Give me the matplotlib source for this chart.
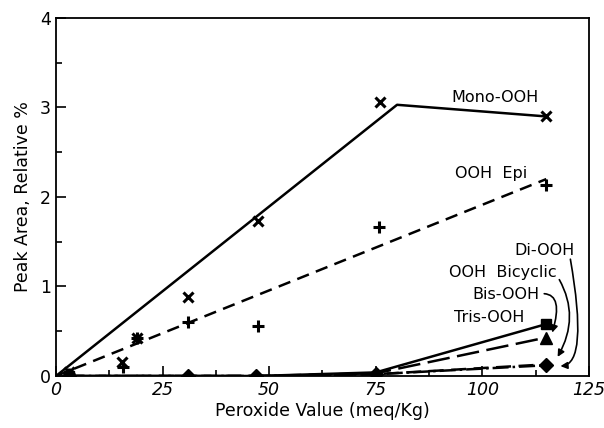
import numpy as np
import matplotlib.pyplot as plt
from matplotlib.ticker import MultipleLocator

plt.rcParams['font.family'] = ['DejaVu Sans']

# peroxide value of the samples (meq/Kg)
pv_mono = [3, 15.4, 19, 31, 47.4, 75.9, 115]
mono = [0.05, 0.16, 0.43, 0.88, 1.73, 3.06, 2.91]
pv_epi = [3, 15.7, 19, 31, 47.4, 75.7, 115]
epi = [0.02, 0.10, 0.42, 0.60, 0.56, 1.66, 2.13]

# fitted trend lines
fit_mono_x = [0, 80, 115]
fit_mono_y = [0, 3.03, 2.90]
fit_epi_x = [0, 115]
fit_epi_y = [0, 2.20]

# minor hydroperoxides
pv_low = [3, 31, 47, 75, 115]
tris = [0, 0, 0, 0.04, 0.58]
bis = [0, 0, 0, 0.03, 0.43]
bicyclic = [0, 0, 0, 0.02, 0.13]
di = [0, 0, 0, 0.02, 0.12]

fig = plt.figure(figsize=(6.04, 4.28), dpi=100)
ax = fig.add_axes([0.0927, 0.1215, 0.8823, 0.8365])

k = 'black'
ax.plot(fit_mono_x, fit_mono_y, '-', color=k, lw=1.8)
ax.plot(pv_mono, mono, 'x', color=k, ms=7, mew=2.2)
ax.plot(fit_epi_x, fit_epi_y, '--', color=k, lw=1.8, dashes=(5, 3))
ax.plot(pv_epi, epi, '+', color=k, ms=9, mew=2.2)

ax.plot(pv_low, tris, '-', color=k, lw=1.8)
ax.plot(pv_low, bis, '--', color=k, lw=1.8, dashes=(9, 3))
ax.plot(pv_low, bicyclic, '--', color=k, lw=1.8, dashes=(6, 3))
ax.plot(pv_low, di, '-.', color=k, lw=1.8)
ax.plot(pv_low[-1], tris[-1], 's', color=k, ms=7)
ax.plot(pv_low[-1], bis[-1], '^', color=k, ms=8)
ax.plot(pv_low, di, 'D', color=k, ms=7)
ax.plot(pv_low[0], tris[0], 's', color=k, ms=7)

fs = 11.5
ax.text(103, 3.11, 'Mono-OOH', ha='center', va='center', fontsize=fs)
ax.text(102, 2.26, 'OOH  Epi', ha='center', va='center', fontsize=fs)
ax.text(114.5, 1.40, 'Di-OOH', ha='center', va='center', fontsize=fs)
ax.text(104.7, 1.16, 'OOH  Bicyclic', ha='center', va='center', fontsize=fs)
ax.text(105.6, 0.91, 'Bis-OOH', ha='center', va='center', fontsize=fs)
ax.text(101.6, 0.65, 'Tris-OOH', ha='center', va='center', fontsize=fs)

arrow = dict(arrowstyle='-|>', color=k, lw=1.2, mutation_scale=10,
             shrinkA=1, shrinkB=1)
ax.annotate('', xy=(118.0, 0.11), xytext=(120.6, 1.32),
            arrowprops=dict(connectionstyle='angle3,angleA=-80,angleB=0', **arrow))
ax.annotate('', xy=(117.5, 0.20), xytext=(117.9, 1.09),
            arrowprops=dict(connectionstyle='angle3,angleA=-60,angleB=60', **arrow))
ax.annotate('', xy=(116.3, 0.47), xytext=(114.2, 0.92),
            arrowprops=dict(connectionstyle='angle3,angleA=0,angleB=73', **arrow))

ax.set_xlim(0, 125)
ax.set_ylim(0, 4)
ax.xaxis.set_major_locator(MultipleLocator(25))
ax.xaxis.set_minor_locator(MultipleLocator(12.5))
ax.yaxis.set_major_locator(MultipleLocator(1))
ax.yaxis.set_minor_locator(MultipleLocator(0.5))
ax.tick_params(which='both', direction='in', width=1.2)
ax.tick_params(which='major', length=7, labelsize=12.5)
ax.tick_params(which='minor', length=4)
for lab in ax.get_xticklabels():
    lab.set_style('italic')
for s in ax.spines.values():
    s.set_linewidth(1.3)

ax.set_xlabel('Peroxide Value (meq/Kg)', fontsize=12.5, labelpad=2)
ax.set_ylabel('Peak Area, Relative %', fontsize=12.5, labelpad=6)

fig.savefig('out.png', dpi=100)
